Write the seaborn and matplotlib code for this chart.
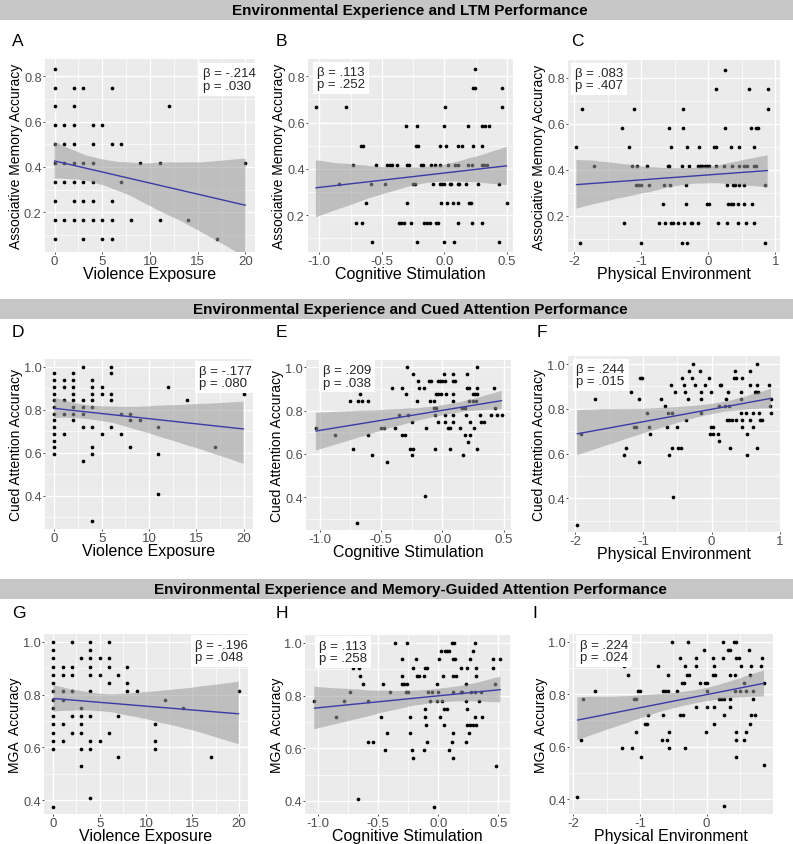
import numpy as np
import pandas as pd
import matplotlib
matplotlib.use("Agg")
import matplotlib.pyplot as plt
from matplotlib.ticker import AutoMinorLocator, FixedLocator, FormatStrFormatter
from matplotlib.patches import Rectangle
import seaborn as sns

# ---------------- DATA ----------------
section_titles = [
    "Environmental Experience and LTM Performance",
    "Environmental Experience and Cued Attention Performance",
    "Environmental Experience and Memory-Guided Attention Performance",
]
panel_letters = ["A", "B", "C", "D", "E", "F", "G", "H", "I"]
x_labels = ["Violence Exposure", "Cognitive Stimulation", "Physical Environment"]
y_labels = ["Associative Memory Accuracy", "Cued Attention Accuracy", "MGA  Accuracy"]
betas = ["-.214", ".113", ".083", "-.177", ".209", ".244", "-.196", ".113", ".224"]
pvals = [".030", ".252", ".407", ".080", ".038", ".015", ".048", ".258", ".024"]

# rows: (accuracy level, [x values at that level])
A_rows = [
    (0.833, [0]), (0.75, [0, 2, 3, 6]), (0.667, [0, 2, 12]), (0.583, [0, 1, 2, 4, 5]),
    (0.5, [0, 1, 2, 4, 6, 7]), (0.417, [0, 1, 2, 3, 4, 9, 11, 20]),
    (0.333, [0, 1, 2, 3, 4, 7]), (0.25, [0, 2, 3, 4, 6]),
    (0.167, [0, 1, 2, 3, 4, 5, 6, 8, 11, 14]), (0.083, [0, 3, 5, 6, 17]),
]
B_rows = [
    (0.833, [0.249]), (0.75, [0.233, 0.245, 0.463]), (0.667, [-1.027, -0.786, 0.006, 0.463]),
    (0.583, [-0.303, -0.221, -0.002, 0.190, 0.302, 0.329, 0.356]),
    (0.5, [-0.665, -0.648, -0.226, -0.21, -0.034, 0.014, 0.108, 0.145, 0.233, 0.302]),
    (0.417, [-0.728, -0.544, -0.455, -0.437, -0.418, -0.378, -0.30, -0.28, -0.186, -0.17,
             -0.109, -0.071, -0.034, 0.028, 0.084, 0.113, 0.19, 0.22, 0.30, 0.318, 0.34]),
    (0.333, [-0.845, -0.586, -0.477, -0.253, -0.234, -0.087, -0.037, -0.018, -0.002, 0.044,
             0.057, 0.108, 0.121, 0.177, 0.273, 0.441]),
    (0.25, [-0.629, -0.30, -0.029, 0.022, 0.070, 0.108, 0.198, 0.214, 0.50]),
    (0.167, [-0.706, -0.658, -0.362, -0.343, -0.325, -0.266, -0.162, -0.135, -0.117, -0.063,
             -0.05, 0.108, 0.225, 0.302]),
    (0.083, [-0.581, -0.215, -0.005, 0.081, 0.441]),
]
C_rows = [
    (0.833, [0.244]), (0.75, [0.119, 0.612, 0.886]), (0.667, [-1.876, -1.104, -0.383, 0.886]),
    (0.583, [-1.279, -0.582, -0.383, 0.254, 0.632, 0.716, 0.746]),
    (0.5, [-1.965, -1.179, -0.557, -0.318, -0.144, 0.09, 0.119, 0.338, 0.453, 0.682]),
    (0.417, [-1.70, -1.129, -1.06, -0.906, -0.602, -0.587, -0.393, -0.284, -0.159, -0.124,
             -0.09, -0.055, -0.025, 0.005, 0.114, 0.239, 0.353, 0.453, 0.532, 0.577, 0.682, 0.716]),
    (0.333, [-1.075, -1.04, -1.005, -0.89, -0.652, -0.572, -0.338, 0.274, 0.363, 0.398, 0.453,
             0.527, 0.851]),
    (0.25, [-0.672, -0.328, -0.025, 0.005, 0.299, 0.333, 0.368, 0.443, 0.527, 0.657]),
    (0.167, [-1.254, -0.731, -0.642, -0.557, -0.522, -0.443, -0.363, -0.264, -0.239, -0.154,
             0.139, 0.274, 0.438, 0.567, 0.682]),
    (0.083, [-1.910, -0.995, -0.393, -0.313, 0.851]),
]
D_rows = [
    (1.0, [3, 6]), (0.969, [0, 2, 6]), (0.938, [0, 1, 2, 4]), (0.906, [0, 1, 2, 4, 5, 12]),
    (0.875, [0, 2, 4, 5, 6, 20]), (0.844, [0, 1, 2, 3, 4, 6, 14]), (0.812, [0, 2, 3, 4]),
    (0.781, [0, 1, 2, 3, 7, 8]), (0.75, [0, 2, 8, 9]), (0.719, [0, 3, 4, 6, 11]),
    (0.688, [0, 1, 5, 7]), (0.656, [0]), (0.625, [0, 4, 8, 17]), (0.594, [0, 4, 11]),
    (0.562, [3]), (0.406, [11]), (0.281, [4]),
]
E_rows = [
    (1.0, [-0.286, 0.286]), (0.969, [-0.239, 0.014, 0.088, 0.198]),
    (0.938, [-0.198, -0.107, -0.088, -0.038, -0.019, -0.003, 0.019, 0.088, 0.104]),
    (0.906, [-0.407, -0.327, -0.187, -0.146, 0.201, 0.214, 0.286, 0.423]),
    (0.875, [-0.673, -0.299, -0.052, -0.033, -0.014, 0.033, 0.088, 0.253, 0.269, 0.286]),
    (0.844, [-0.753, -0.690, -0.651, -0.607, -0.209, -0.096, -0.071, 0.088, 0.214, 0.253, 0.277]),
    (0.812, [-0.066, -0.047, 0.159, 0.187, 0.426]),
    (0.781, [-0.352, -0.280, -0.058, 0.022, 0.088, 0.195, 0.310, 0.396, 0.442, 0.484]),
    (0.75, [-0.247, -0.038, 0.022, 0.091, 0.228, 0.319, 0.338]),
    (0.719, [-1.03, -0.503, -0.473, -0.385, -0.132, 0.044, 0.063, 0.146, 0.258]),
    (0.688, [-0.871, -0.604, -0.33, -0.30, 0.187, 0.228]), (0.656, [0.212]),
    (0.625, [-0.728, -0.266, -0.239, -0.060, 0.063, 0.283]), (0.594, [-0.569, -0.250, 0.165]),
    (0.562, [-0.451]), (0.406, [-0.140]), (0.281, [-0.692]),
]
F_rows = [
    (1.0, [-0.278, 0.668]), (0.969, [-0.337, -0.166, 0.346, 0.566]),
    (0.938, [-1.049, -1.015, -0.439, -0.293, -0.044, 0.332, 0.351, 0.449]),
    (0.906, [-0.590, -0.400, -0.239, -0.093, 0.117, 0.137, 0.566, 0.668, 0.834]),
    (0.875, [-1.185, -0.537, -0.395, -0.161, -0.005, 0.239, 0.434, 0.63, 0.649, 0.683]),
    (0.844, [-1.707, -1.068, -0.741, -0.351, -0.161, 0.215, 0.434, 0.868]),
    (0.812, [-0.678, 0.102, 0.2, 0.259, 0.854]),
    (0.781, [-0.946, -0.644, -0.580, -0.156, 0.434, 0.498, 0.610, 0.698, 0.868]),
    (0.75, [-0.371, 0.224, 0.259, 0.293, 0.356, 0.444, 0.566, 0.712, 0.741]),
    (0.719, [-1.132, -1.107, -0.912, -0.659, -0.512, -0.015, 0.015, 0.439, 0.6]),
    (0.688, [-1.912, -0.902, -0.02, 0.015, 0.088, 0.517]), (0.656, [0.112]),
    (0.625, [-1.259, -0.585, -0.488, -0.454, 0.263, 0.668]), (0.594, [-1.283, -0.624, 0.522]),
    (0.562, [-1.059]), (0.406, [-0.561]), (0.281, [-1.966]),
]
G_rows = [
    (1.0, [0, 2, 4, 6]), (0.969, [0, 4]), (0.938, [0, 3, 4, 5, 6]), (0.906, [0, 1, 2, 4, 6, 8]),
    (0.875, [0, 1, 2, 4, 5, 7]), (0.844, [0, 6, 8]), (0.812, [0, 1, 2, 4, 8, 9, 20]),
    (0.781, [0, 1, 12]), (0.75, [0, 3, 14]), (0.719, [0, 2, 3, 4, 7]), (0.688, [0, 1, 3, 11]),
    (0.656, [0, 2, 3, 6]), (0.625, [0, 1, 4, 5, 11]), (0.594, [0, 3, 4, 11]), (0.562, [7, 17]),
    (0.531, [3]), (0.406, [4]), (0.375, [0]),
]
H_rows = [
    (1.0, [-0.361, -0.258, 0.111, 0.128, 0.308]), (0.969, [0.019, 0.056, 0.072, 0.089, 0.292]),
    (0.938, [-0.303, -0.183, 0.003, 0.119, 0.136, 0.261, 0.456, 0.517]),
    (0.906, [-0.708, -0.658, -0.211, -0.111, -0.094, 0.189, 0.239, 0.311, 0.456]),
    (0.875, [-0.653, -0.306, -0.178, -0.161, -0.117, 0.036, 0.119, 0.15, 0.311]),
    (0.844, [-0.628, -0.458, -0.303, -0.283, -0.264, -0.008, 0.231, 0.472]),
    (0.812, [-0.733, -0.400, -0.269, -0.253, -0.083, -0.056, -0.006, 0.125, 0.186, 0.2, 0.272,
             0.306, 0.356]),
    (0.781, [-1.033, -0.789, -0.589, -0.072, -0.008, 0.033, 0.231, 0.339]),
    (0.75, [-0.111, 0.047, 0.075, 0.239]),
    (0.719, [-0.853, -0.475, -0.236, -0.111, 0.014, 0.306, 0.367]),
    (0.688, [-0.106, 0.044, 0.242, 0.261, 0.292, 0.311]), (0.656, [-0.425, -0.233, 0.119, 0.256]),
    (0.625, [-0.583, -0.544, -0.097, 0.117, 0.231]), (0.594, [-0.444, -0.219, -0.117, 0.092]),
    (0.562, [-0.211, 0.119]), (0.531, [0.478]), (0.406, [-0.672]), (0.375, [-0.033]),
]
I_rows = [
    (1.0, [-0.515, -0.28, 0.245, 0.41, 0.44]), (0.969, [-0.045, 0.315, 0.345, 0.63]),
    (0.938, [-0.395, -0.165, 0.09, 0.24, 0.44, 0.49, 0.83]),
    (0.906, [-1.24, -0.725, -0.325, -0.165, 0.115, 0.51, 0.66, 0.82]),
    (0.875, [-1.175, -0.58, -0.295, -0.265, 0.09, 0.125, 0.345, 0.425, 0.655]),
    (0.844, [-0.365, -0.335, -0.1, -0.025, 0.005, 0.555, 0.86]),
    (0.812, [-1.68, -1.03, -0.995, -0.65, -0.625, -0.575, -0.44, 0.0, 0.43, 0.5, 0.59, 0.7]),
    (0.781, [-1.855, -1.095, -1.06, 0.19, 0.22, 0.255, 0.35, 0.69]),
    (0.75, [-0.165, 0.005, 0.115, 0.35]),
    (0.719, [-0.885, -0.65, -0.395, -0.36, 0.26, 0.66, 0.725]),
    (0.688, [-0.925, -0.895, 0.115, 0.655]), (0.656, [-1.055, -0.56, -0.015, 0.44, 0.585]),
    (0.625, [-1.885, -0.675, -0.6, 0.435, 0.555]), (0.594, [-1.27, -1.115, -0.56, -0.325]),
    (0.562, [-0.985, 0.435]), (0.531, [0.855]), (0.406, [-1.94]), (0.375, [0.26]),
]
all_rows = [A_rows, B_rows, C_rows, D_rows, E_rows, F_rows, G_rows, H_rows, I_rows]

x_ticks = [[0, 5, 10, 15, 20], [-1.0, -0.5, 0.0, 0.5], [-2, -1, 0, 1]]
y_ticks_ltm = [0.2, 0.4, 0.6, 0.8]
y_ticks_att = [0.4, 0.6, 0.8, 1.0]

# ---------------- LAYOUT ----------------
W, H = 793, 845
sns.set_theme(style="darkgrid")
plt.rcParams["font.family"] = ["Liberation Sans", "DejaVu Sans"]

fig = plt.figure(figsize=(W / 100, H / 100), dpi=100)
fig.patch.set_facecolor("white")

# panel boxes in pixels (x0, x1, y0, y1)
boxes = [
    (45, 255, 60, 253), (308, 513, 60, 253), (568, 780, 61, 253),
    (45, 253, 360, 530), (306, 511, 361, 531), (568, 780, 357, 533),
    (44, 248, 635, 815), (305, 510, 636, 815), (569, 773, 635, 815),
]
xlims = [(-1, 21), (-1.09, 0.55), (-2.09, 1.07),
         (-1, 21), (-1.11, 0.56), (-2.10, 1.0),
         (-1, 21), (-1.11, 0.597), (-2.065, 0.995)]
ylims = [(0.025, 0.876), (0.040, 0.875), (0.043, 0.878),
         (0.245, 1.036), (0.249, 1.034), (0.250, 1.036),
         (0.347, 1.030), (0.350, 1.030), (0.343, 1.030)]
stat_pos = [(0.752, 0.958), (0.044, 0.964), (0.033, 0.964),
            (0.740, 0.965), (0.083, 0.976), (0.040, 0.960),
            (0.740, 0.972), (0.068, 0.972), (0.054, 0.972)]
letter_pos = [(12, 42), (276, 42), (571, 42), (12, 333), (276, 333), (537, 333),
              (12, 613), (276, 613), (532, 613)]
bar_spans = [(0, 21), (300, 320), (580, 600)]

for (y0, y1), title in zip(bar_spans, section_titles):
    fig.patches.append(Rectangle((0, 1 - y1 / H), 1, (y1 - y0) / H,
                                 transform=fig.transFigure, facecolor="#c6c6c6",
                                 edgecolor="none", zorder=0))
    fig.text(410 / W, 1 - (y0 + y1) / 2 / H, title, ha="center", va="center",
             fontsize=11, fontweight="bold", color="black")

line_col = "#3b3ba6"
for i, rows in enumerate(all_rows):
    r, c = divmod(i, 3)
    xs = [x for lvl, xv in rows for x in xv]
    ys = [lvl for lvl, xv in rows for _ in xv]
    df = pd.DataFrame({"x": xs, "y": ys})
    x0, x1, y0, y1 = boxes[i]
    ax = fig.add_axes([x0 / W, 1 - y1 / H, (x1 - x0) / W, (y1 - y0) / H])
    ax.set_facecolor("#ebebeb")
    sns.scatterplot(data=df, x="x", y="y", color="black", s=7, linewidth=0, ax=ax, zorder=2)
    sns.regplot(data=df, x="x", y="y", scatter=False, ci=95, seed=3, color="#999999",
                line_kws=dict(color=line_col, lw=1.0, zorder=4), ax=ax)
    for coll in ax.collections[1:]:
        coll.set_facecolor("#9a9a9a")
        coll.set_edgecolor("none")
        coll.set_alpha(0.55)
        coll.set_zorder(3)
    ax.set_xlim(*xlims[i])
    ax.set_ylim(*ylims[i])
    ax.xaxis.set_major_locator(FixedLocator(x_ticks[c]))
    ax.yaxis.set_major_locator(FixedLocator(y_ticks_ltm if r == 0 else y_ticks_att))
    if c == 1:
        ax.xaxis.set_major_formatter(FormatStrFormatter("%.1f"))
    else:
        ax.xaxis.set_major_formatter(FormatStrFormatter("%g"))
    ax.yaxis.set_major_formatter(FormatStrFormatter("%.1f"))
    ax.xaxis.set_minor_locator(AutoMinorLocator(2))
    ax.yaxis.set_minor_locator(AutoMinorLocator(2))
    ax.grid(which="major", color="white", lw=1.0)
    ax.grid(which="minor", color="white", lw=0.5)
    ax.set_axisbelow(True)
    for s in ax.spines.values():
        s.set_visible(False)
    ax.tick_params(which="major", length=1.6, width=0.6, color="#333333", labelcolor="#4d4d4d",
                   pad=0.8, bottom=True, left=True)
    ax.tick_params(axis="x", labelsize=9.5)
    ax.tick_params(axis="y", labelsize=9.2)
    ax.tick_params(which="minor", length=0)
    ax.set_xlabel(x_labels[c], fontsize=11.5, color="black", labelpad=-1.2)
    ax.set_ylabel(y_labels[r], fontsize=10, color="black", labelpad=0.3)
    ax.text(stat_pos[i][0], stat_pos[i][1],
            "\u03b2 = " + betas[i] + "\np = " + pvals[i],
            transform=ax.transAxes, ha="left", va="top", fontsize=9.5, linespacing=1.05,
            zorder=6, bbox=dict(boxstyle="square,pad=0.3", fc="white", ec="none"))
    lx, ly = letter_pos[i]
    fig.text(lx / W, 1 - ly / H, panel_letters[i], ha="left", va="center", fontsize=12.5,
             color="black")

fig.savefig("out.png", dpi=100, facecolor="white")
